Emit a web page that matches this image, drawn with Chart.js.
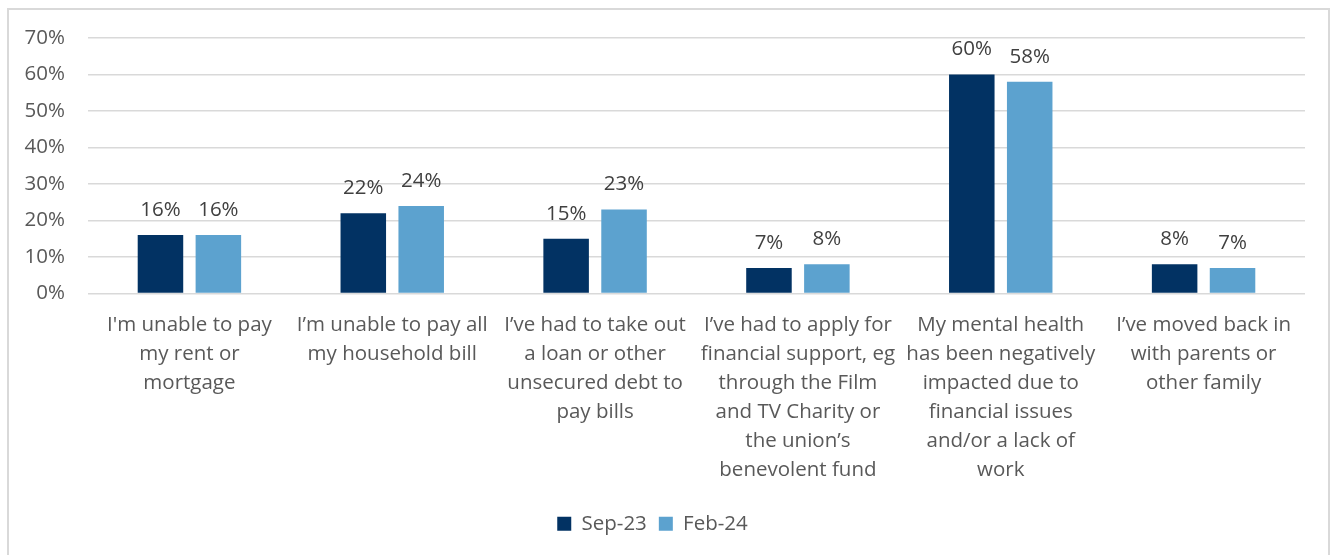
<!DOCTYPE html>
<html>
<head>
<meta charset="utf-8">
<script src="https://cdn.jsdelivr.net/npm/chart.js@4"></script>
<style>
  html, body { margin: 0; padding: 0; background: #fff; }
  #wrap { position: relative; width: 1335px; height: 555px; overflow: hidden; }
  #frame { position: absolute; left: 7px; top: 8px; width: 1323px; height: 600px; border: 2px solid #d9d9d9; box-sizing: border-box; }
  canvas { position: absolute; left: 0; top: 0; }
</style>
</head>
<body>
<div id="wrap">
  <div id="frame"></div>
  <canvas id="chart" width="1335" height="555"></canvas>
</div>
<script>
// Categories (wrapped the same way as the axis labels)
const categories = [
  ["I'm unable to pay", "my rent or", "mortgage"],
  ["I’m unable to pay all", "my household bill"],
  ["I’ve had to take out", "a loan or other", "unsecured debt to", "pay bills"],
  ["I’ve had to apply for", "financial support, eg", "through the Film", "and TV Charity or", "the union’s", "benevolent fund"],
  ["My mental health", "has been negatively", "impacted due to", "financial issues", "and/or a lack of", "work"],
  ["I’ve moved back in", "with parents or", "other family"]
];
const sep23 = [16, 22, 15, 7, 60, 8];
const feb24 = [16, 24, 23, 8, 58, 7];
const yTicks = [0, 10, 20, 30, 40, 50, 60, 70];

const FONT = "'Open Sans', 'Noto Sans', sans-serif";
const SIZE = 20.5;

// value labels above every bar
const barLabels = {
  id: 'barLabels',
  afterDatasetsDraw(chart) {
    const ctx = chart.ctx;
    ctx.save();
    ctx.font = SIZE + "px " + FONT;
    ctx.fillStyle = '#404040';
    ctx.textAlign = 'center';
    ctx.textBaseline = 'middle';
    chart.data.datasets.forEach((ds, i) => {
      chart.getDatasetMeta(i).data.forEach((bar, j) => {
        ctx.fillText(ds.data[j] + '%', bar.x, bar.y - 25);
      });
    });
    ctx.restore();
  }
};

new Chart(document.getElementById('chart'), {
  type: 'bar',
  data: {
    labels: categories,
    datasets: [
      { label: 'Sep-23', data: sep23, backgroundColor: '#023263' },
      { label: 'Feb-24', data: feb24, backgroundColor: '#5CA2CF' }
    ]
  },
  options: {
    responsive: false,
    animation: false,
    categoryPercentage: 0.571,
    barPercentage: 0.786,
    layout: { padding: { top: 38, right: 30, bottom: 11, left: 0 } },
    plugins: {
      tooltip: { enabled: false },
      legend: {
        position: 'bottom',
        labels: {
          boxWidth: 14,
          boxHeight: 14,
          padding: 12,
          color: '#595959',
          font: { family: FONT, size: SIZE }
        }
      }
    },
    scales: {
      x: {
        grid: { display: false, drawTicks: false },
        border: { display: false },
        ticks: {
          color: '#595959',
          padding: 17,
          maxRotation: 0,
          autoSkip: false,
          font: { family: FONT, size: SIZE, lineHeight: '29px' }
        },
        afterFit(scale) { scale.height = 208; }
      },
      y: {
        min: 0,
        max: 70,
        afterBuildTicks(scale) { scale.ticks = yTicks.map(v => ({ value: v })); },
        grid: { color: '#d9d9d9', lineWidth: 1.5, drawTicks: false },
        border: { display: false },
        ticks: {
          color: '#595959',
          padding: 23,
          font: { family: FONT, size: SIZE },
          callback: v => v + '%'
        },
        afterFit(scale) { scale.width = 88; }
      }
    }
  },
  plugins: [barLabels]
});
</script>
</body>
</html>
